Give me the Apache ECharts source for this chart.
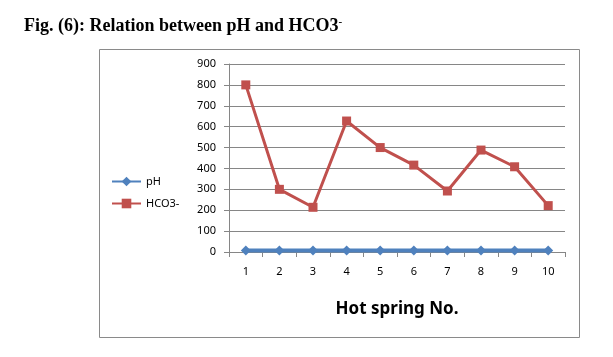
<!DOCTYPE html>
<html><head><meta charset="utf-8">
<script src="https://cdn.jsdelivr.net/npm/echarts@6/dist/echarts.min.js"></script>
<style>html,body{margin:0;padding:0;background:#fff}#c{width:613px;height:357px}</style>
</head><body><div id="c"></div>
<script>
var categories = ['1','2','3','4','5','6','7','8','9','10'];
var phValues = [7.5, 7.4, 7.6, 7.3, 7.5, 7.4, 7.6, 7.5, 7.3, 7.4];
var hco3Values = [800, 300, 214, 627, 500, 416, 292, 488, 408, 222];
var yTicks = [0, 100, 200, 300, 400, 500, 600, 700, 800, 900];

var chart = echarts.init(document.getElementById('c'));
chart.setOption({
  animation: false,
  backgroundColor: '#fff',
  title: {
    text: '{t|Fig. (6): Relation between pH and HCO3}{s|-}',
    left: 24, top: 17, padding: 0,
    textStyle: {
      rich: {
        t: {fontFamily: 'Liberation Serif', fontWeight: 'bold', fontSize: 18, color: '#000'},
        s: {fontFamily: 'Liberation Serif', fontWeight: 'bold', fontSize: 11, color: '#000', verticalAlign: 'top', padding: [0,0,8,0]}
      }
    }
  },
  graphic: [{
    type: 'rect', shape: {x: 99.5, y: 49.5, width: 480, height: 288},
    style: {fill: 'none', stroke: '#8a8a8a', lineWidth: 1}, z: -1
  }],
  legend: {
    orient: 'vertical', left: 111, top: 176, itemGap: 11, padding: 0,
    itemWidth: 29, itemHeight: 12,
    textStyle: {fontFamily: 'Noto Sans', fontSize: 11, color: '#000'},
    data: ['pH', 'HCO3-']
  },
  grid: {left: 229, right: 48, top: 64, bottom: 105},
  xAxis: {
    type: 'category', data: categories, boundaryGap: true,
    name: 'Hot spring No.', nameLocation: 'middle', nameGap: 49,
    nameTextStyle: {fontFamily: 'Noto Sans', fontWeight: 'bold', fontSize: 17, color: '#000'},
    axisLine: {lineStyle: {color: '#868686'}},
    axisTick: {show: true, alignWithLabel: false, length: 5, lineStyle: {color: '#868686'}},
    axisLabel: {fontFamily: 'Noto Sans', fontSize: 11, color: '#000', margin: 14}
  },
  yAxis: {
    type: 'value', min: 0, max: 900, interval: 100,
    axisLine: {show: true, lineStyle: {color: '#868686'}},
    axisTick: {show: true, length: 5, lineStyle: {color: '#868686'}},
    axisLabel: {fontFamily: 'Noto Sans', fontSize: 11, color: '#000', margin: 13,
      formatter: function (v) { return yTicks.indexOf(v) >= 0 ? String(v) : ''; }},
    splitLine: {lineStyle: {color: '#868686', width: 1}}
  },
  series: [
    {name: 'pH', type: 'line', data: phValues, symbol: 'diamond', symbolSize: 10,
     itemStyle: {color: '#4F81BD'}, lineStyle: {color: '#4F81BD', width: 4}, z: 3},
    {name: 'HCO3-', type: 'line', data: hco3Values, symbol: 'rect', symbolSize: 9,
     itemStyle: {color: '#C0504D'}, lineStyle: {color: '#C0504D', width: 3}, z: 2}
  ]
});
</script></body></html>
